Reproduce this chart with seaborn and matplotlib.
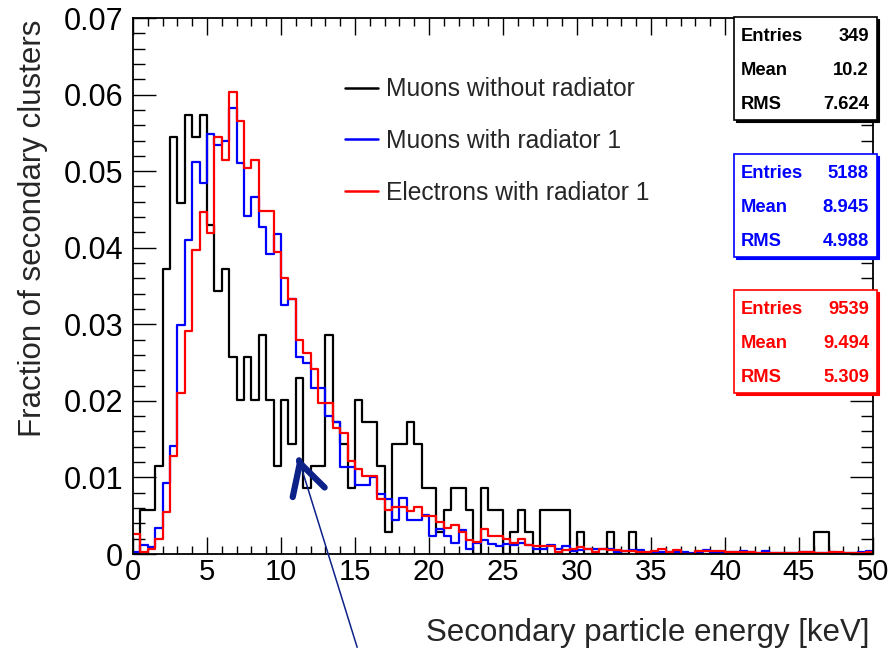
import numpy as np
import pandas as pd
import matplotlib
matplotlib.use("Agg")
import matplotlib.pyplot as plt
import seaborn as sns
from matplotlib.lines import Line2D
from matplotlib.patches import Rectangle
from matplotlib.ticker import MultipleLocator, FuncFormatter

# ---------------- data ----------------
x_min, x_max, n_bins = 0.0, 50.0, 100

series_names = ["Muons without radiator", "Muons with radiator 1", "Electrons with radiator 1"]
series_colors = ["#000000", "#0000ff", "#ff0000"]

# raw entries per 0.5 keV bin for muons without radiator (349 entries)
muons_no_rad_counts = [
    0, 2, 2, 4, 13, 19, 16, 20, 19, 20,
    15, 12, 13, 9, 7, 9, 7, 10, 7, 4,
    7, 5, 8, 3, 4, 4, 10, 6, 5, 3,
    7, 6, 6, 4, 1, 5, 5, 6, 5, 3,
    3, 1, 2, 3, 3, 2, 0, 3, 2, 2,
    0, 1, 2, 1, 0, 2, 2, 2, 2, 0,
    1, 0, 0, 0, 1, 0, 0, 1, 0, 0,
    0, 0, 0, 0, 0, 0, 0, 0, 0, 0,
    0, 0, 0, 0, 0, 0, 0, 0, 0, 0,
    0, 0, 1, 1, 0, 0, 0, 0, 0, 0,
]

muons_rad_fraction = [
    0.0003, 0.0012, 0.0009, 0.0034, 0.0093, 0.0141, 0.0299, 0.0410, 0.0512, 0.0485,
    0.0548, 0.0534, 0.0540, 0.0582, 0.0510, 0.0442, 0.0466, 0.0427, 0.0392, 0.0418,
    0.0325, 0.0333, 0.0257, 0.0250, 0.0217, 0.0217, 0.0180, 0.0172, 0.0113, 0.0113,
    0.0090, 0.0090, 0.0100, 0.0079, 0.0072, 0.0045, 0.0073, 0.0044, 0.0045, 0.0051,
    0.0023, 0.0032, 0.0023, 0.0014, 0.0031, 0.0007, 0.0014, 0.0018, 0.0013, 0.0010,
    0.0013, 0.0012, 0.0014, 0.0012, 0.0007, 0.0007, 0.0012, 0.0006, 0.0010, 0.0004,
    0.0005, 0.0007, 0.0007, 0.0006, 0.0006, 0.0003, 0.0004, 0.0005, 0.0005, 0.0001,
    0.0001, 0.0003, 0.0002, 0.0003, 0.0002, 0.0001, 0.0003, 0.0005, 0.0001, 0.0001,
    0.0002, 0.0002, 0.0004, 0.0002, 0.0001, 0.0004, 0.0001, 0.0001, 0.0001, 0.0001,
    0.0002, 0.0002, 0.0001, 0.0001, 0.0002, 0.0001, 0.0001, 0.0001, 0.0002, 0.0004,
]

electrons_rad_fraction = [
    0.0026, 0.0002, 0.0007, 0.0019, 0.0055, 0.0128, 0.0210, 0.0291, 0.0397, 0.0447,
    0.0419, 0.0545, 0.0514, 0.0603, 0.0565, 0.0504, 0.0515, 0.0448, 0.0448, 0.0395,
    0.0360, 0.0333, 0.0279, 0.0262, 0.0242, 0.0197, 0.0197, 0.0165, 0.0158, 0.0121,
    0.0111, 0.0102, 0.0102, 0.0072, 0.0057, 0.0062, 0.0062, 0.0056, 0.0062, 0.0049,
    0.0049, 0.0042, 0.0034, 0.0038, 0.0029, 0.0018, 0.0016, 0.0032, 0.0024, 0.0024,
    0.0020, 0.0015, 0.0020, 0.0012, 0.0010, 0.0010, 0.0010, 0.0003, 0.0005, 0.0007,
    0.0009, 0.0007, 0.0002, 0.0007, 0.0005, 0.0005, 0.0004, 0.0004, 0.0003, 0.0003,
    0.0004, 0.0007, 0.0003, 0.0005, 0.0000, 0.0000, 0.0004, 0.0004, 0.0004, 0.0004,
    0.0003, 0.0002, 0.0003, 0.0003, 0.0001, 0.0001, 0.0001, 0.0001, 0.0001, 0.0001,
    0.0003, 0.0002, 0.0001, 0.0001, 0.0003, 0.0002, 0.0001, 0.0001, 0.0001, 0.0003,
]

stat_entries = ["349", "5188", "9539"]
stat_means = ["10.2", "8.945", "9.494"]
stat_rms = ["7.624", "4.988", "5.309"]

x_ticks = [0, 5, 10, 15, 20, 25, 30, 35, 40, 45, 50]
y_ticks = [0, 0.01, 0.02, 0.03, 0.04, 0.05, 0.06, 0.07]

# ---------------- build table ----------------
bin_w = (x_max - x_min) / n_bins
centers = x_min + bin_w * (np.arange(n_bins) + 0.5)
black_frac = np.array(muons_no_rad_counts, dtype=float) / float(stat_entries[0])

df = pd.concat([
    pd.DataFrame({"energy": centers, "fraction": black_frac, "sample": series_names[0]}),
    pd.DataFrame({"energy": centers, "fraction": muons_rad_fraction, "sample": series_names[1]}),
    pd.DataFrame({"energy": centers, "fraction": electrons_rad_fraction, "sample": series_names[2]}),
], ignore_index=True)

# ---------------- style ----------------
sns.set_style("ticks")
plt.rcParams["font.family"] = ["Liberation Sans", "DejaVu Sans"]
plt.rcParams["axes.linewidth"] = 1.3

W, H = 892, 650
fig = plt.figure(figsize=(W / 100, H / 100), dpi=100)
ax_l, ax_r, ax_t, ax_b = 133, 873, 18, 554
ax = fig.add_axes([ax_l / W, 1 - ax_b / H, (ax_r - ax_l) / W, (ax_b - ax_t) / H])

for name, col in zip(series_names, series_colors):
    sub = df[df["sample"] == name]
    sns.histplot(data=sub, x="energy", weights="fraction",
                 binwidth=bin_w, binrange=(x_min, x_max),
                 element="step", fill=False, color=col, linewidth=1.6,
                 ax=ax, legend=False)

ax.set_xlim(x_min, x_max)
ax.set_ylim(0, 0.07)
ax.set_xlabel("")
ax.set_ylabel("")
ax.set_xticks(x_ticks)
ax.set_yticks(y_ticks)
ax.xaxis.set_minor_locator(MultipleLocator(1))
ax.yaxis.set_minor_locator(MultipleLocator(0.002))
ax.yaxis.set_major_formatter(FuncFormatter(lambda v, p: "0" if abs(v) < 1e-9 else f"{v:.2f}"))
ax.xaxis.set_major_formatter(FuncFormatter(lambda v, p: f"{v:.0f}"))
ax.tick_params(which="both", direction="in", top=True, right=True,
               colors="black", width=1.0)
ax.tick_params(axis="y", which="major", length=16.5, pad=7, labelsize=22)
ax.tick_params(axis="y", which="minor", length=8.5)
ax.tick_params(axis="x", which="major", length=12, pad=3, labelsize=21)
ax.tick_params(axis="x", which="minor", length=6)
for s in ax.spines.values():
    s.set_visible(True)
    s.set_color("black")

# axis titles
fig.text(869 / W, 1 - 641 / H, "Secondary particle energy [keV]", ha="right", va="baseline",
         fontsize=22.5)
fig.text(33 / W, 1 - 20 / H, "Fraction of secondary clusters", ha="center", va="top",
         rotation=90, fontsize=22.5)

# legend
handles = [Line2D([0], [0], color=c, lw=1.8) for c in series_colors]
fig.legend(handles, series_names, loc="center left",
           bbox_to_anchor=(345 / W, 1 - 141 / H), frameon=False, fontsize=17.7,
           handlelength=1.36, handletextpad=0.29, labelspacing=1.12,
           borderpad=0, borderaxespad=0)

# stats boxes
box_x0, box_x1 = 734, 877
box_tops = [17, 154, 290]
box_h = 103
row_offsets = [19.5, 53.5, 87.5]
for i, col in enumerate(series_colors):
    top = box_tops[i]
    shadow = Rectangle(((box_x0 + 1.5) / W, 1 - (top + box_h + 1.5) / H),
                       (box_x1 - box_x0) / W, box_h / H, transform=fig.transFigure,
                       facecolor=col, edgecolor=col, lw=0.8, zorder=5)
    box = Rectangle((box_x0 / W, 1 - (top + box_h) / H), (box_x1 - box_x0) / W, box_h / H,
                    transform=fig.transFigure, facecolor="white", edgecolor=col, lw=1.2,
                    zorder=6)
    fig.add_artist(shadow)
    fig.add_artist(box)
    labels = ["Entries", "Mean", "RMS"]
    values = [stat_entries[i], stat_means[i], stat_rms[i]]
    for lab, val, off in zip(labels, values, row_offsets):
        yy = 1 - (top + off) / H
        fig.text(741 / W, yy, lab, ha="left", va="center", color=col, fontsize=13.2,
                 fontweight="bold", zorder=7)
        fig.text(869 / W, yy, val, ha="right", va="center", color=col, fontsize=13.2,
                 fontweight="bold", zorder=7)

# arrow pointing at the dip near 11 keV
arrow_col = "#0d2288"
tip_x, tip_y = 11.15, 0.0127
ax.annotate("", xy=(tip_x, tip_y), xycoords="data",
            xytext=(358, 0), textcoords="figure pixels",
            arrowprops=dict(arrowstyle="-", color=arrow_col, lw=1.1),
            annotation_clip=False)
ax.annotate("", xy=(tip_x, tip_y), xycoords="data",
            xytext=(1.2, -4.0), textcoords="offset pixels",
            arrowprops=dict(arrowstyle="->,head_length=1.1,head_width=0.6",
                            color=arrow_col, lw=4.5, shrinkA=0, shrinkB=0,
                            mutation_scale=20),
            annotation_clip=False)

fig.savefig("out.png", dpi=100)
